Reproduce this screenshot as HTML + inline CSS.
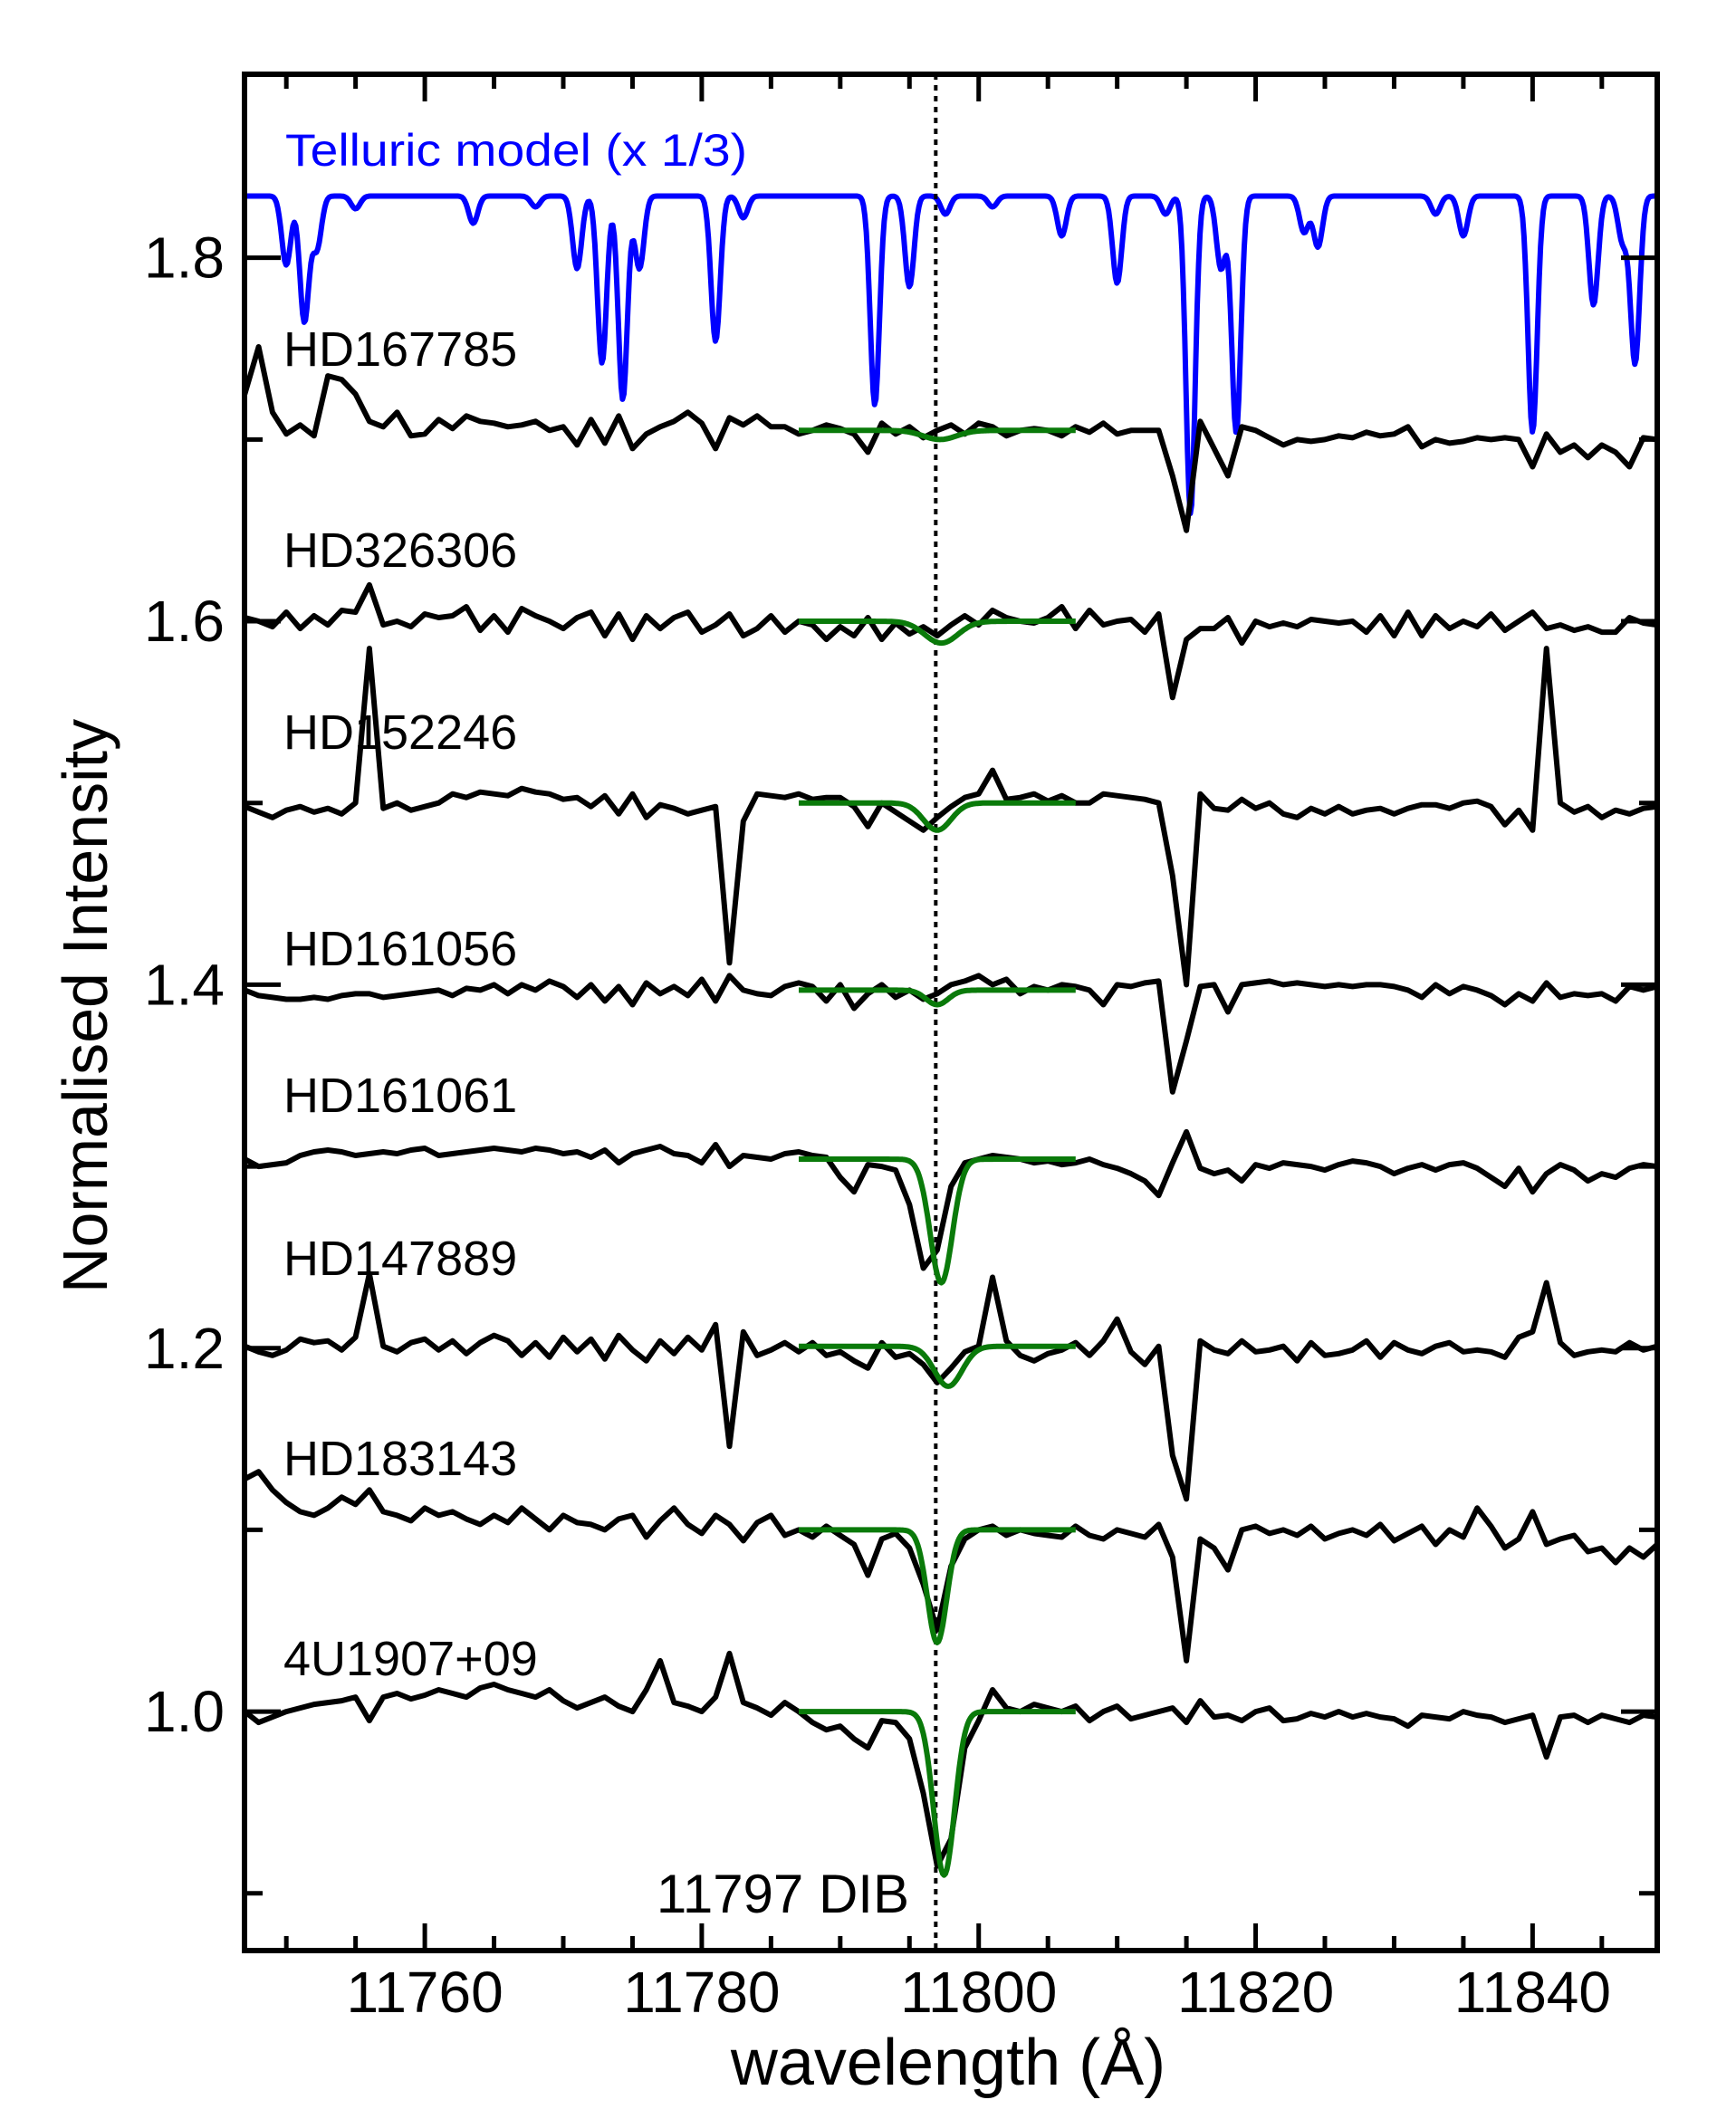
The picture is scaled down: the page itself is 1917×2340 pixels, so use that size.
<!DOCTYPE html>
<html><head><meta charset="utf-8"><style>
html,body{margin:0;padding:0;background:#fff;}
svg{display:block;font-family:"Liberation Sans",Arial,sans-serif;}
</style></head><body>
<svg id="chart" width="1917" height="2340" viewBox="0 0 1917 2340" xmlns="http://www.w3.org/2000/svg">
<rect x="0" y="0" width="1917" height="2340" fill="#fff"/>
<g id="plot"></g>
<g id="axes"></g>
<g id="labels"></g>
<text x="315" y="183" font-size="50" fill="#0000ff" textLength="510" lengthAdjust="spacingAndGlyphs">Telluric model (x 1/3)</text>
<text x="1004" y="2112" font-size="60" fill="#000" text-anchor="end">11797 DIB</text>
<text x="1047" y="2302" font-size="72" fill="#000" text-anchor="middle">wavelength (Å)</text>
<text x="0" y="0" font-size="70" fill="#000" text-anchor="middle" transform="translate(118,1111) rotate(-90)">Normalised Intensity</text>
</svg>
<script>
// ---- data ----
const lambdaStart = 11747;
const starNames = ["HD167785","HD326306","HD152246","HD161056","HD161061","HD147889","HD183143","4U1907+09"];
const baselines = [1.705,1.600,1.500,1.397,1.304,1.201,1.100,1.000];
// deviations in thousandths, 1 Å sampling from 11747
const dev0 = [20,46,10,-2,3,-3,30,28,20,5, 2,10,-3,-2,6,1,8,5,4,2, 3,5,0,2,-8,6,-7,8,-10,-2, 2,5,10,4,-10,7,3,8,2,2, -2,0,3,1,-2,-12,4,-2,2,-4, 0,3,-2,4,2,-3,0,1,0,-3, 2,-1,4,-2,0,0,0,-25,-55,5, -10,-25,2,0,-4,-8,-5,-6,-5,-3, -4,-1,-3,-2,2,-9,-5,-7,-6,-4, -5,-4,-5,-20,-2,-12,-8,-15,-8,-12, -20,-4,-5];
const dev1 = [2,0,-3,5,-4,3,-2,6,5,20, -2,0,-3,4,2,3,8,-5,3,-6, 7,3,0,-4,2,5,-8,4,-10,3, -4,2,5,-6,-2,4,-8,-4,3,-6, 0,-2,-10,-3,-8,2,-10,-1,-7,-3, -8,-2,3,-2,6,2,0,-1,2,8, -4,6,-2,0,1,-6,4,-42,-10,-4, -4,2,-12,0,-3,-1,-3,1,0,-1, 0,-6,3,-8,5,-8,3,-4,0,-3, 4,-5,0,5,-4,-2,-5,-3,-6,-6, 2,-1,-2];
const dev2 = [-2,-5,-8,-4,-2,-5,-3,-6,0,85, -3,0,-4,-2,0,5,3,6,5,4, 8,6,5,2,3,-2,4,-6,5,-8, -1,-3,-6,-4,-2,-88,-10,5,4,3, 5,2,3,3,-2,-13,0,-5,-10,-15, -8,-2,3,5,18,2,3,5,1,4, 0,0,5,4,3,2,0,-40,-100,5, -3,-4,2,-3,0,-6,-8,-3,-6,-2, -6,-4,-3,-6,-3,-1,-1,-3,0,1, -2,-12,-4,-15,85,0,-5,-2,-8,-4, -6,-3,-2];
const dev3 = [0,-3,-4,-5,-5,-4,-5,-3,-2,-2, -4,-3,-2,-1,0,-3,1,0,3,-2, 3,0,5,2,-4,3,-6,2,-8,4, -2,2,-3,6,-6,8,0,-2,-3,2, 4,2,-6,3,-10,-2,3,-4,0,-5, -2,3,5,8,3,6,-2,2,0,3, 2,0,-8,3,2,4,5,-56,-28,2, 3,-12,3,4,5,3,4,3,2,3, 2,3,3,2,0,-4,3,-2,2,0, -3,-8,-2,-6,4,-4,-2,-3,-2,-6, 2,0,2];
const dev4 = [0,-4,-3,-2,2,4,5,4,2,3, 4,3,5,6,2,3,4,5,6,5, 4,6,5,3,4,1,5,-2,3,5, 7,3,2,-2,8,-4,2,1,0,3, 4,2,1,-10,-18,-3,-4,-6,-25,-60, -50,-15,-2,0,2,1,0,-2,-1,-3, -2,0,-3,-5,-8,-12,-20,-2,15,-5, -8,-6,-12,-3,-5,-2,-3,-4,-6,-3, -1,-2,-4,-8,-5,-3,-6,-3,-2,-5, -10,-15,-5,-18,-8,-3,-6,-12,-8,-10, -5,-3,-4];
const dev5 = [0,-3,-5,-2,4,2,3,-2,5,40, 0,-3,2,4,-2,3,-4,2,6,3, -5,2,-6,5,-3,4,-7,6,-2,-8, 3,-4,5,-2,12,-55,8,-5,-2,2, -3,2,-5,-3,-8,-12,2,-6,-4,-10, -20,-12,-3,0,38,3,-5,-8,-4,-2, 2,-5,3,15,-3,-10,0,-60,-84,3, -2,-4,3,-3,-2,0,-8,2,-5,-4, -2,3,-6,2,-2,-4,0,2,-3,-2, -3,-6,5,8,35,2,-5,-3,-2,-3, 2,-2,0];
const dev6 = [28,32,22,15,10,8,12,18,14,22, 10,8,5,12,8,10,6,3,8,4, 12,6,0,8,4,3,0,6,8,-4, 5,12,3,-2,8,3,-6,4,8,-3, 0,-4,2,-3,-8,-25,-5,-2,-10,-30, -55,-20,-5,0,2,-3,0,-2,-3,-4, 2,-3,-5,0,-2,-4,3,-15,-72,-5, -10,-22,0,2,-2,0,-3,2,-5,-2, 0,-3,3,-6,-2,2,-8,0,-4,12, 2,-10,-5,10,-8,-5,-3,-12,-10,-18, -10,-15,-8];
const dev7 = [0,-6,-3,0,2,4,5,6,8,-5, 8,10,7,9,12,10,8,13,15,12, 10,8,12,6,2,5,8,3,0,12, 28,5,3,0,8,32,5,2,-2,5, 0,-6,-10,-8,-15,-20,-5,-6,-15,-45, -85,-70,-20,-5,12,2,0,4,2,0, 3,-5,0,3,-4,-2,0,2,-6,6, -3,-2,-5,0,2,-5,-4,-1,-3,0, -3,-1,-3,-4,-8,-2,-3,-4,0,-2, -3,-6,-4,-2,-25,-3,-2,-6,-2,-4, -6,-2,-3];
const deviations = [dev0,dev1,dev2,dev3,dev4,dev5,dev6,dev7];
// Gaussian DIB fits
const fitCenters = [11797.2,11797.3,11797.0,11797.0,11797.3,11797.8,11797.0,11797.5];
const fitDepths = [0.005,0.012,0.015,0.008,0.068,0.022,0.062,0.09];
const fitSigmas = [1.2,1.2,1.0,0.8,0.8,1.0,0.7,0.75];
const fitRange = [11787,11807];
// telluric model lines
const tellBase = 1.834;
const tellCenters = [11750,11751.3,11752.2,11755,11763.5,11768,11771,11772.8,11774.3,11775.5,11781,11783,11792.5,11795,11797.6,11801,11806,11810,11813.5,11815.3,11817.5,11818.6,11823.5,11824.5,11833,11835,11840,11844.4,11846.5,11847.4];
const tellDepths = [0.038,0.069,0.029,0.007,0.015,0.006,0.04,0.092,0.112,0.04,0.08,0.012,0.115,0.05,0.01,0.006,0.022,0.048,0.01,0.175,0.04,0.13,0.02,0.028,0.01,0.022,0.13,0.06,0.025,0.092];
const xTicks = [11760,11780,11800,11820,11840];
const yTicks = [1.0,1.2,1.4,1.6,1.8];
const dibLambda = 11796.9;

// ---- axes functions ----
const L=270,R=1830,T=82,B=2154;
const xMin=11746.98,xMax=11849.0,yMin=0.8685,yMax=1.901;
const X=v=>L+(v-xMin)/(xMax-xMin)*(R-L);
const Y=v=>B-(v-yMin)/(yMax-yMin)*(B-T);
const NS="http://www.w3.org/2000/svg";
function mk(tag,parent,attrs){const e=document.createElementNS(NS,tag);for(const k in attrs)e.setAttribute(k,attrs[k]);parent.appendChild(e);return e;}
const plot=document.getElementById('plot'),axes=document.getElementById('axes'),labels=document.getElementById('labels');

const defs=mk('defs',plot,{});const cp=mk('clipPath',defs,{id:'clip'});mk('rect',cp,{x:L,y:T,width:R-L,height:B-T});
const g=mk('g',plot,{'clip-path':'url(#clip)'});

// telluric
let tp='';
for(let l=xMin;l<=xMax+0.05;l+=0.1){let v=tellBase;for(let k=0;k<tellCenters.length;k++){const d=(l-tellCenters[k])/0.33;v-=tellDepths[k]*Math.exp(-0.5*d*d);}tp+=(tp?'L':'M')+X(l).toFixed(1)+' '+Y(v).toFixed(1);}
const tl=mk('path',g,{d:tp,fill:'none',stroke:'#0000ff','stroke-width':6,'stroke-linejoin':'round'});



// dotted DIB line
const dl=mk('line',g,{x1:X(dibLambda),x2:X(dibLambda),y1:T,y2:B,stroke:'#000','stroke-width':4,'stroke-dasharray':'6 6'});



// spectra
deviations.forEach((dev,s)=>{
  let p='';
  dev.forEach((d,i)=>{p+=(i?'L':'M')+X(lambdaStart+i).toFixed(1)+' '+Y(baselines[s]+d/1000).toFixed(1);});
  const e=mk('path',g,{d:p,fill:'none',stroke:'#000','stroke-width':6,'stroke-linejoin':'round'});
  
  
});
// fits
fitCenters.forEach((c,s)=>{
  let p='';
  for(let l=fitRange[0];l<=fitRange[1]+0.01;l+=0.1){const d=(l-c)/fitSigmas[s];const v=baselines[s]-fitDepths[s]*Math.exp(-0.5*d*d);p+=(p?'L':'M')+X(l).toFixed(1)+' '+Y(v).toFixed(1);}
  const e=mk('path',g,{d:p,fill:'none',stroke:'#0a7a0a','stroke-width':6,'stroke-linejoin':'round'});
  
  
});

// frame
const fr=mk('rect',axes,{x:L,y:T,width:R-L,height:B-T,fill:'none',stroke:'#000','stroke-width':6});


for(let v=11750;v<=11845;v+=5){
  const major=(v%20===0);const len=major?30:16;
  mk('line',axes,{x1:X(v),x2:X(v),y1:B,y2:B-len,stroke:'#000','stroke-width':5});
  mk('line',axes,{x1:X(v),x2:X(v),y1:T,y2:T+len,stroke:'#000','stroke-width':5});
}
xTicks.forEach(v=>{
  const t=mk('text',axes,{x:X(v),y:2222,'text-anchor':'middle','font-size':64,fill:'#000'});
  t.textContent=v;
  
  
});
for(let k=9;k<=18;k++){
  const v=k/10;const major=(k%2===0);const len=major?40:20;
  mk('line',axes,{x1:L,x2:L+len,y1:Y(v),y2:Y(v),stroke:'#000','stroke-width':5});
  mk('line',axes,{x1:R,x2:R-len,y1:Y(v),y2:Y(v),stroke:'#000','stroke-width':5});
}
yTicks.forEach(v=>{
  const t=mk('text',axes,{x:248,y:Y(v)+22,'text-anchor':'end','font-size':64,fill:'#000'});
  t.textContent=v.toFixed(1);
  
  
});
const labelY=[404,626,827,1066,1228,1408,1629,1850];
starNames.forEach((n,s)=>{
  const t=mk('text',labels,{x:313,y:labelY[s],'font-size':54,fill:'#000'});
  t.textContent=n;
  
  
});
</script>
</body></html>
